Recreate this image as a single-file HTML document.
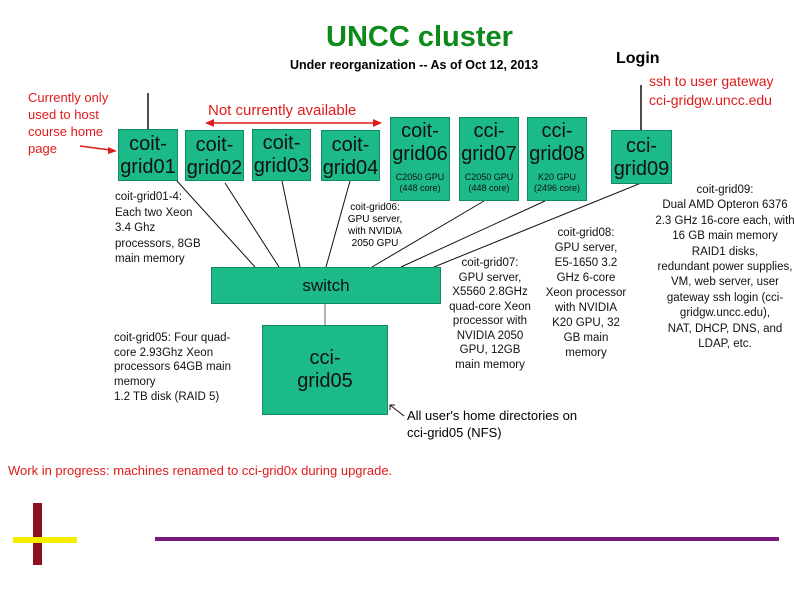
<!DOCTYPE html>
<html><head><meta charset="utf-8"><style>
body{margin:0;width:794px;height:595px;background:#fff;position:relative;overflow:hidden;font-family:"Liberation Sans",sans-serif;}
.a{position:absolute;white-space:nowrap}
.b{position:absolute;background:#1cba89;border:1.5px solid #148a64;box-sizing:border-box;text-align:center;color:#111;font-size:20px;line-height:23px}
.c{text-align:center}
.s{font-size:11.5px;line-height:15.5px;color:#111}
.r{color:#e01b1b}
</style></head><body>
<svg width="794" height="595" style="position:absolute;left:0;top:0">
<g stroke="#111" stroke-width="1" fill="none">
<line x1="148" y1="93" x2="148" y2="130" stroke-width="1.5"/>
<line x1="641" y1="85" x2="641" y2="130" stroke-width="1.5"/>
<line x1="177" y1="181" x2="255" y2="267"/>
<line x1="225" y1="183" x2="279" y2="267"/>
<line x1="282" y1="181" x2="300" y2="267"/>
<line x1="350" y1="181" x2="326" y2="267"/>
<line x1="484" y1="201" x2="372" y2="267"/>
<line x1="545" y1="201" x2="401" y2="267"/>
<line x1="641" y1="183" x2="434" y2="267"/>
<line x1="325" y1="304" x2="325" y2="325" stroke="#999" stroke-width="1.5"/>
<line x1="404" y1="416" x2="390" y2="405"/>
<polyline points="390,410 390,405 395,405"/>
</g>
<g stroke="#e01b1b" stroke-width="1.5" fill="#e01b1b">
<line x1="212" y1="123" x2="375" y2="123"/>
<polygon points="205,123 214,119 214,127" stroke="none"/>
<polygon points="382,123 373,119 373,127" stroke="none"/>
<line x1="80" y1="146" x2="110" y2="150"/>
<polygon points="117,151 108,147 108,154" stroke="none"/>
</g>
<rect x="33" y="503" width="9" height="62" fill="#8b1020"/>
<rect x="13" y="537" width="64" height="6" fill="#f5ec00"/>
<rect x="155" y="537" width="624" height="4" fill="#7a1a80"/>
</svg>
<div class="a" style="left:326px;top:21px;font-size:29px;font-weight:bold;color:#0e8a1a">UNCC cluster</div>
<div class="a" style="left:290px;top:58px;font-size:12.5px;font-weight:bold">Under reorganization -- As of Oct 12, 2013</div>
<div class="a" style="left:616px;top:50px;font-size:16px;font-weight:bold">Login</div>
<div class="a r" style="left:649px;top:72px;font-size:14px;line-height:19px">ssh to user gateway<br>cci-gridgw.uncc.edu</div>
<div class="a r" style="left:28px;top:89px;font-size:13px;line-height:17px">Currently only<br>used to host<br>course home<br>page</div>
<div class="a r" style="left:208px;top:102px;font-size:15px">Not currently available</div>
<div class="b" style="left:118px;top:129px;width:60px;height:52px;padding-top:3px">coit-<br>grid01</div>
<div class="b" style="left:185px;top:130px;width:59px;height:51px;padding-top:3px">coit-<br>grid02</div>
<div class="b" style="left:252px;top:129px;width:59px;height:52px;padding-top:2px">coit-<br>grid03</div>
<div class="b" style="left:321px;top:130px;width:59px;height:51px;padding-top:3px">coit-<br>grid04</div>
<div class="b" style="left:390px;top:117px;width:60px;height:84px;padding-top:2px">coit-<br>grid06<div style="font-size:9px;line-height:11px;margin-top:6px">C2050 GPU<br>(448 core)</div></div>
<div class="b" style="left:459px;top:117px;width:60px;height:84px;padding-top:2px">cci-<br>grid07<div style="font-size:9px;line-height:11px;margin-top:6px">C2050 GPU<br>(448 core)</div></div>
<div class="b" style="left:527px;top:117px;width:60px;height:84px;padding-top:2px">cci-<br>grid08<div style="font-size:9px;line-height:11px;margin-top:6px">K20 GPU<br>(2496 core)</div></div>
<div class="b" style="left:611px;top:130px;width:61px;height:54px;padding-top:4px">cci-<br>grid09</div>
<div class="b" style="left:211px;top:267px;width:230px;height:37px;line-height:35px;font-size:17px">switch</div>
<div class="b" style="left:262px;top:325px;width:126px;height:90px;padding-top:21px">cci-<br>grid05</div>
<div class="a s" style="left:115px;top:190px">coit-grid01-4:<br>Each two Xeon<br>3.4 Ghz<br>processors, 8GB<br>main memory</div>
<div class="a c" style="left:325px;top:202px;width:100px;font-size:10px;line-height:12px">coit-grid06:<br>GPU server,<br>with NVIDIA<br>2050 GPU</div>
<div class="a s c" style="left:435px;top:256px;width:110px;line-height:14.5px">coit-grid07:<br>GPU server,<br>X5560 2.8GHz<br>quad-core Xeon<br>processor with<br>NVIDIA 2050<br>GPU, 12GB<br>main memory</div>
<div class="a s c" style="left:536px;top:226px;width:100px;line-height:15px">coit-grid08:<br>GPU server,<br>E5-1650 3.2<br>GHz 6-core<br>Xeon processor<br>with NVIDIA<br>K20 GPU, 32<br>GB main<br>memory</div>
<div class="a s c" style="left:645px;top:183px;width:160px;line-height:15.4px">coit-grid09:<br>Dual AMD Opteron 6376<br>2.3 GHz 16-core each, with<br>16 GB main memory<br>RAID1 disks,<br>redundant power supplies,<br>VM, web server, user<br>gateway ssh login (cci-<br>gridgw.uncc.edu),<br>NAT, DHCP, DNS, and<br>LDAP, etc.</div>
<div class="a s" style="left:114px;top:331px;line-height:14.7px">coit-grid05: Four quad-<br>core 2.93Ghz Xeon<br>processors 64GB main<br>memory<br>1.2 TB disk (RAID 5)</div>
<div class="a" style="left:407px;top:407px;font-size:13px;line-height:17px">All user's home directories on<br>cci-grid05 (NFS)</div>
<div class="a r" style="left:8px;top:463px;font-size:13px">Work in progress: machines renamed to cci-grid0x during upgrade.</div>
</body></html>
